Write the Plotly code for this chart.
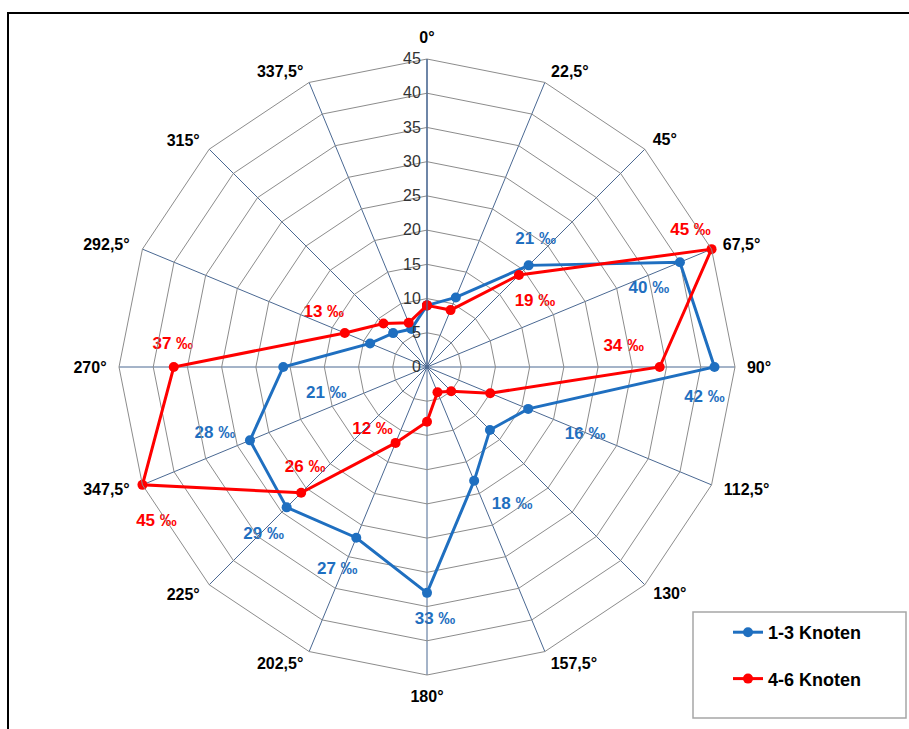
import math
import plotly.graph_objects as go

# Wind directions (category labels as printed on the chart)
directions = ["0°", "22,5°", "45°", "67,5°", "90°", "112,5°", "130°", "157,5°",
              "180°", "202,5°", "225°", "347,5°", "270°", "292,5°", "315°", "337,5°"]
# compass angle of each spoke, degrees clockwise from north
spoke_deg = [i * 22.5 for i in range(16)]

# Frequency per direction, in per mille
knots_1_3 = [9, 11, 21, 40, 42, 16, 13, 18, 33, 27, 29, 28, 21, 9, 7, 6]
knots_4_6 = [9, 9, 19, 45, 34, 10, 5, 4, 8, 12, 26, 45, 37, 13, 9, 7]

# Which points carry a value label, with the label's pixel offset (dx, dy)
blue_labels = {2: (7, -28), 3: (-31, 25), 4: (-10, 29), 5: (57, 24), 7: (38, 22),
               8: (8, 25), 9: (-19, 30), 10: (-23, 25), 11: (-35, -9), 12: (43, 25)}
red_labels = {2: (16, 25), 3: (-21, -20), 4: (-36, -22), 9: (-23, -15),
              10: (4, -27), 11: (14, 35), 12: (-1, -24), 13: (-21, -22)}
# pixel offset of each direction label from its spoke's outer end
direction_label_offsets = [(0, -22), (25, -11), (20, -10), (30, -5), (24, 0), (35, 4),
                           (25, 8), (29, 11), (0, 21), (-29, 11), (-26, 9), (-36, 4),
                           (-29, 0), (-36, -5), (-26, -9), (-29, -11)]

BLUE = "#1f6fc0"
RED = "#ff0000"
SPOKE = "#4a6892"
GRID = "#8c8c8c"
FONT = "Liberation Sans, Arial, sans-serif"

W, H = 909, 729
CX, CY, R_PX = 427, 367, 308
R_MAX = 45
SCALE = R_PX / R_MAX
TEXT_DY = 2  # vertical nudge so text centres sit on their anchor
dom_x = [(CX - R_PX) / W, (CX + R_PX) / W]
dom_y = [(H - CY - R_PX) / H, (H - CY + R_PX) / H]

fig = go.Figure()


def closed(seq):
    return list(seq) + [seq[0]]


def to_px(r, deg, dx=0, dy=0):
    """Pixel position of polar value (r, deg) on the page, moved by (dx, dy)."""
    a = math.radians(deg)
    return CX + r * SCALE * math.sin(a) + dx, CY - r * SCALE * math.cos(a) + dy + TEXT_DY


for name, vals, col in [("1-3 Knoten", knots_1_3, BLUE), ("4-6 Knoten", knots_4_6, RED)]:
    fig.add_trace(go.Scatterpolar(
        r=closed(vals), theta=closed(directions), mode="lines+markers", name=name,
        legendgroup=name,
        line=dict(color=col, width=3), marker=dict(color=col, size=10),
        subplot="polar", hoverinfo="skip"))

# value labels, placed on a page-sized pixel overlay
for vals, labels, col in [(knots_1_3, blue_labels, BLUE), (knots_4_6, red_labels, RED)]:
    pos = [to_px(vals[i], spoke_deg[i], dx, dy) for i, (dx, dy) in labels.items()]
    fig.add_trace(go.Scatter(
        x=[p[0] for p in pos], y=[p[1] for p in pos], mode="text",
        text=[f"{vals[i]} ‰" for i in labels], showlegend=False, cliponaxis=False,
        textfont=dict(family=FONT, size=17, color=col, weight="bold"),
        hoverinfo="skip"))

# direction labels around the outer polygon
pos = [to_px(R_MAX, d, dx, dy) for d, (dx, dy) in zip(spoke_deg, direction_label_offsets)]
fig.add_trace(go.Scatter(
    x=[p[0] for p in pos], y=[p[1] for p in pos], mode="text", text=directions,
    showlegend=False, cliponaxis=False,
    textfont=dict(family=FONT, size=16, color="black", weight="bold"),
    hoverinfo="skip"))

fig.update_layout(
    width=W, height=H,
    margin=dict(l=0, r=0, t=0, b=0),
    paper_bgcolor="white",
    plot_bgcolor="rgba(0,0,0,0)",
    font=dict(family=FONT),
    xaxis=dict(range=[0, W], domain=[0, 1], visible=False, fixedrange=True),
    yaxis=dict(range=[H, 0], domain=[0, 1], visible=False, fixedrange=True),
    polar=dict(
        domain=dict(x=dom_x, y=dom_y),
        bgcolor="rgba(0,0,0,0)",
        gridshape="linear",
        angularaxis=dict(
            type="category", categoryarray=directions,
            direction="clockwise", rotation=90,
            showgrid=True, gridcolor=SPOKE, gridwidth=1.2,
            showline=True, linecolor=GRID, linewidth=1,
            ticks="", showticklabels=False),
        radialaxis=dict(
            range=[0, R_MAX], dtick=5, tick0=0, angle=90, tickangle=90,
            side="counterclockwise",
            showgrid=True, gridcolor=GRID, gridwidth=1,
            showline=True, linecolor=SPOKE, linewidth=1.2,
            ticks="", tickfont=dict(family=FONT, size=16, color="#333333")),
    ),
    legend=dict(
        x=728 / W, y=1 - 614 / H, xanchor="left", yanchor="top",
        bgcolor="rgba(0,0,0,0)", borderwidth=0,
        font=dict(family=FONT, size=18, color="black", weight="bold"),
        tracegroupgap=20, traceorder="grouped", itemwidth=30),
    shapes=[
        # outer chart frame
        dict(type="rect", xref="paper", yref="paper",
             x0=8 / W, x1=1.2, y0=-0.2, y1=1 - 13 / H,
             line=dict(color="black", width=2), layer="below"),
        # legend box
        dict(type="rect", xref="paper", yref="paper",
             x0=693 / W, x1=906 / W, y0=1 - 718 / H, y1=1 - 612 / H,
             line=dict(color="#a6a6a6", width=1.5), fillcolor="white", layer="below"),
    ],
)

fig.write_html("out.html")
